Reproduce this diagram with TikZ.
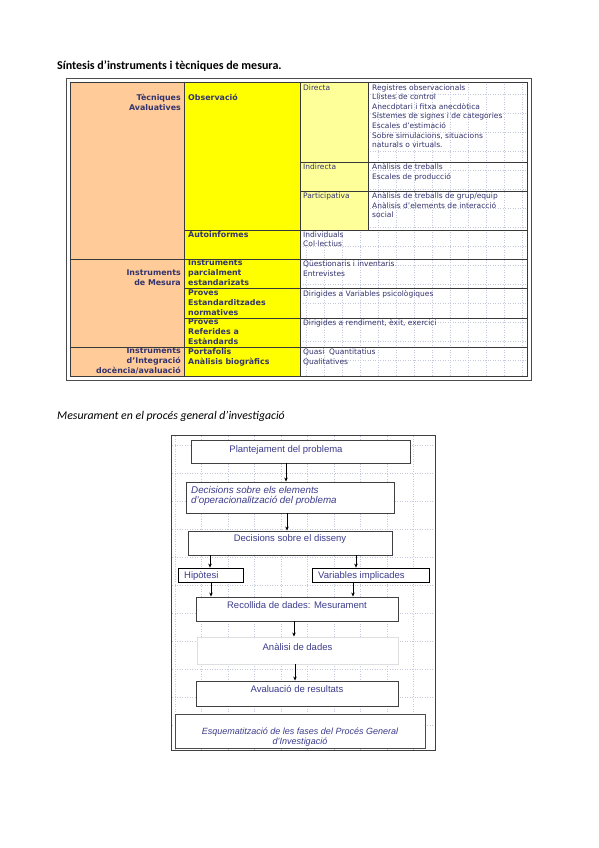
\documentclass[tikz,border=0pt]{standalone}
\usepackage{fontspec}
\setmainfont{Carlito}
\newfontfamily\tabfont{DejaVu Sans}
\newfontfamily\flowfont{Liberation Sans}
\usetikzlibrary{arrows.meta}
\definecolor{peach}{RGB}{255,204,153}
\definecolor{yel}{RGB}{255,255,0}
\definecolor{lyel}{RGB}{255,255,153}
\definecolor{navy}{RGB}{51,51,110}
\definecolor{flowblue}{RGB}{60,60,140}
\definecolor{gridc}{RGB}{195,200,220}
\tikzset{
  lbl/.style={inner sep=0, font=\tabfont\bfseries\fontsize{7.9}{10}\selectfont, text=navy},
  txt/.style={inner sep=0, font=\tabfont\fontsize{7.5}{9.6}\selectfont, text=navy, align=left, anchor=north west},
  cell/.style={draw=gray!45!black, line width=0.8},
  gridl/.style={draw=gridc, dotted, line width=0.5},
  fbox/.style={draw=gray!50!black, line width=0.9, fill=white, inner sep=0},
  ftxt/.style={inner sep=0, font=\flowfont\fontsize{9.5}{11}\selectfont, text=flowblue},
  arr/.style={-{Stealth[length=4pt,width=3.5pt]}, line width=0.6, black},
}
\begin{document}
\begin{tikzpicture}[x=1pt,y=-1pt]
\useasboundingbox (0,0) rectangle (599,848);
\fill[white] (0,0) rectangle (599,848);

% ---------- titles ----------
\node[anchor=west, inner sep=0, font=\bfseries\fontsize{12}{14}\selectfont] (title1) at (57,66) {Síntesis d’instruments i tècniques de mesura.};
\node[anchor=west, inner sep=0, font=\itshape\fontsize{11.8}{14}\selectfont] (title2) at (57,416.5) {Mesurament en el procés general d’investigació};

% ---------- table ----------
\fill[peach] (70,82) rectangle (184,376);
\fill[yel] (184,82) rectangle (300,376);
\fill[lyel] (300,82) rectangle (368,230);
\begin{scope}
  \clip (368,82) rectangle (527,230) (300,230) rectangle (527,376);
  \foreach \gx in {306,324,...,522} \draw[gridl] (\gx,82) -- (\gx,376);
  \foreach \gy in {94,113,...,376} \draw[gridl] (300,\gy) -- (527,\gy);
\end{scope}
\draw[gray!60!black, line width=0.8] (66,78) rectangle (531,380);
\draw[cell] (70,82) rectangle (527,376);
\draw[cell] (184,82) -- (184,376);
\draw[cell] (300,82) -- (300,376);
\draw[cell] (368,82) -- (368,230);
\draw[cell] (300,162) -- (527,162);
\draw[cell] (300,191) -- (527,191);
\draw[cell] (184,230) -- (527,230);
\draw[cell] (70,259) -- (527,259);
\draw[cell] (184,288) -- (527,288);
\draw[cell] (184,318) -- (527,318);
\draw[cell] (70,347) -- (527,347);

% left column
\node[lbl, align=right, anchor=north east] (tec) at (181,93.8) {Tècniques\\Avaluatives};
\node[lbl, align=right, anchor=north east] (imes) at (181,270) {Instruments\\de Mesura};
\node[lbl, align=right, anchor=north east] (iint) at (181,347.8) {Instruments\\d’Integració\\docència/avaluació};
% yellow column
\node[lbl, align=left, anchor=north west] (obs) at (188,93.8) {Observació};
\node[lbl, align=left, anchor=north west] (auto) at (188,231) {Autoinformes};
\node[lbl, align=left, anchor=north west] (ipar) at (188,260) {Instruments\\parcialment\\estandarizats};
\node[lbl, align=left, anchor=north west] (pest) at (188,289.4) {Proves\\Estandarditzades\\normatives};
\node[lbl, align=left, anchor=north west] (pref) at (188,318.8) {Proves\\Referides a\\Estàndards};
\node[lbl, align=left, anchor=north west] (port) at (188,347.8) {Portafolis\\Anàlisis biogràfics};
% sub column
\node[txt] (dir) at (303,84.3) {Directa};
\node[txt] (ind) at (303,163.3) {Indirecta};
\node[txt] (par) at (303,192.3) {Participativa};
% right column
\node[txt] (ldir) at (372,84.3) {Registres observacionals\\Llistes de control\\Anecdotari i fitxa anecdòtica\\Sistemes de signes i de categories\\Escales d’estimació\\Sobre simulacions, situacions\\naturals o virtuals.};
\node[txt] (lind) at (372,163.3) {Anàlisis de treballs\\Escales de producció};
\node[txt] (lpar) at (372,192.3) {Anàlisis de treballs de grup/equip\\Anàlisis d’elements de interacció\\social};
\node[txt] (lauto) at (303,231.3) {Individuals\\Col·lectius};
\node[txt] (lipar) at (303,260.8) {Qüestionaris i inventaris\\Entrevistes};
\node[txt] (lpest) at (303,289.8) {Dirigides a Variables psicològiques};
\node[txt] (lpref) at (303,318.8) {Dirigides a rendiment, èxit, exercici};
\node[txt] (lport) at (303,348.8) {Quasi\ \ Quantitatius\\Qualitatives};

% ---------- flowchart ----------
\draw[gray!50!black, line width=1] (171,435) rectangle (435,750);
\begin{scope}
  \clip (172,436) rectangle (434,749);
  \foreach \gx in {175,201.5,...,435} \draw[gridl] (\gx,436) -- (\gx,749);
  \foreach \gy in {445,473,...,750} \draw[gridl] (172,\gy) -- (434,\gy);
\end{scope}

\node[fbox, minimum width=219, minimum height=23] (b1) at (300.5,451.5) {};
\node[fbox, minimum width=208, minimum height=31] (b2) at (290,497.5) {};
\node[fbox, minimum width=204, minimum height=24] (b3) at (290,543) {};
\node[fbox, draw=black, line width=0.8, minimum width=65, minimum height=14] (hip) at (210.5,575) {};
\node[fbox, draw=black, line width=0.8, minimum width=117, minimum height=14] (var) at (370.5,575) {};
\node[fbox, minimum width=202, minimum height=24] (rec) at (297,609) {};
\node[fbox, draw=gray!25, minimum width=201, minimum height=27] (ana) at (297.5,650.5) {};
\node[fbox, minimum width=202, minimum height=25] (ava) at (297,693.5) {};
\node[fbox, draw=gray!60!black, minimum width=250, minimum height=34] (esq) at (300,731) {};

\node[ftxt] (t1) at (286,450.5) {Plantejament del problema};
\node[ftxt, font=\flowfont\itshape\fontsize{9.8}{10.5}\selectfont, align=left, anchor=north west] (t2) at (191,486) {Decisions sobre els elements\\d’operacionalització del problema};
\node[ftxt] (t3) at (290,539.5) {Decisions sobre el disseny};
\node[ftxt, anchor=west] (t4) at (184,576) {Hipòtesi};
\node[ftxt, anchor=west] (t5) at (318,576) {Variables implicades};
\node[ftxt] (t6) at (297,605) {Recollida de dades: Mesurament};
\node[ftxt] (t7) at (297.5,647) {Anàlisi de dades};
\node[ftxt] (t8) at (297,689.5) {Avaluació de resultats};
\node[ftxt, font=\flowfont\itshape\fontsize{9}{9.8}\selectfont, align=center] (t9) at (300,737.5) {Esquematització de les fases del Procés General\\d’Investigació};

\draw[arr] ([xshift=-14.5pt]b1.south) -- ([xshift=-14.5pt]b1.south |- b2.north);
\draw[arr] ([xshift=-3pt]b2.south) -- ([xshift=-3pt]b2.south |- b3.north);
\draw[arr] ([xshift=-80pt]b3.south) -- ([xshift=-80pt]b3.south |- hip.north);
\draw[arr] ([xshift=66pt]b3.south) -- ([xshift=66pt]b3.south |- var.north);
\draw[arr] ([xshift=0.5pt]hip.south) -- ([xshift=0.5pt]hip.south |- rec.north);
\draw[arr] ([xshift=-17.5pt]var.south) -- ([xshift=56pt]rec.north);
\draw[arr] ([xshift=-3pt]rec.south) -- ([xshift=-3pt]rec.south |- ana.north);
\draw[arr] ([xshift=-2.5pt]ana.south) -- ([xshift=-2.5pt]ana.south |- ava.north);
\end{tikzpicture}
\end{document}
